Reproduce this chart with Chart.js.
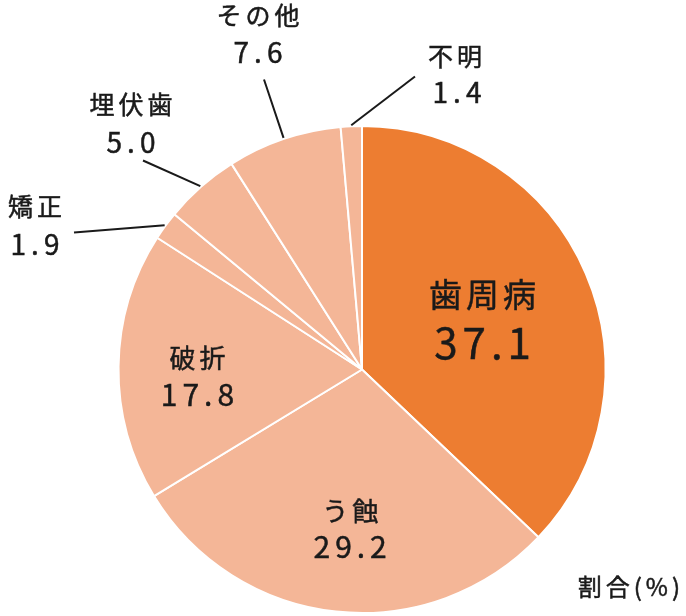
<!DOCTYPE html>
<html lang="ja">
<head>
    <meta charset="UTF-8">
    <title>歯の喪失原因</title>
    <script src="https://cdn.jsdelivr.net/npm/chart.js"></script>
    <style>
        html, body {
            margin: 0;
            padding: 0;
            background: #ffffff;
        }
        .wrap {
            position: relative;
            width: 686px;
            height: 616px;
        }
    </style>
</head>
<body>
    <div class="wrap">
        <canvas id="pieChart" width="686" height="616"></canvas>
    </div>

    <script>
        // data
        const causes = ['歯周病', 'う蝕', '破折', '矯正', '埋伏歯', 'その他', '不明'];
        const shares = [37.1, 29.2, 17.8, 1.9, 5.0, 7.6, 1.4];
        const unitLabel = '割合(%)';

        const ORANGE = '#ED7D31';
        const SALMON = '#F4B697';
        const sliceColors = causes.map((c, i) => i === 0 ? ORANGE : SALMON);

        // where each label goes: inner ones sit on the mid angle at a fraction of the radius,
        // outer ones are offsets from the pie centre with a leader line to the slice edge
        const labelPlacement = [
            { inner: 0.53, gap: 48, nameSize: 33, valueSize: 42, dx: 2, dy: 0 },
            { inner: 0.65, gap: 36, nameSize: 26, valueSize: 30, dx: 5, dy: 2 },
            { inner: 0.68, gap: 37, nameSize: 26, valueSize: 30, dx: 1, dy: 9 },
            { name: [-327, -163], value: [-327, -125], line: [-288, -137] },
            { name: [-231, -265], value: [-231, -227], line: [-219, -209] },
            { name: [-104, -354], value: [-104, -317], line: [-98, -290] },
            { name: [93, -313], value: [95, -277], line: [53, -293] }
        ];

        const FONT = '"Noto Sans CJK JP", "Noto Sans", sans-serif';

        function drawText(ctx, text, x, y, size, spacing) {
            ctx.font = size + 'px ' + FONT;
            ctx.letterSpacing = spacing + 'px';
            // letterSpacing adds a trailing gap, shift half of it back
            ctx.fillText(text, x + spacing / 2, y);
            ctx.lineWidth = 0.5;
            ctx.strokeText(text, x + spacing / 2, y);
        }

        const sliceLabels = {
            id: 'sliceLabels',
            afterDatasetsDraw(chart) {
                const ctx = chart.ctx;
                const meta = chart.getDatasetMeta(0);
                const ds = chart.data.datasets[0];
                ctx.save();
                ctx.fillStyle = '#1a1a1a';
                ctx.strokeStyle = '#1a1a1a';
                ctx.textAlign = 'center';
                ctx.textBaseline = 'middle';
                meta.data.forEach((arc, i) => {
                    const p = arc.getProps(['x', 'y', 'startAngle', 'endAngle', 'outerRadius'], true);
                    const mid = (p.startAngle + p.endAngle) / 2;
                    const place = labelPlacement[i];
                    const valueText = ds.data[i].toFixed(1);
                    if (place.inner) {
                        const r = p.outerRadius * place.inner;
                        const cx = p.x + Math.cos(mid) * r + place.dx;
                        const cy = p.y + Math.sin(mid) * r + place.dy;
                        drawText(ctx, chart.data.labels[i], cx, cy - place.gap / 2, place.nameSize, 4);
                        drawText(ctx, valueText, cx, cy + place.gap / 2, place.valueSize, 5);
                    } else {
                        const sx = p.x + Math.cos(mid) * (p.outerRadius + 1);
                        const sy = p.y + Math.sin(mid) * (p.outerRadius + 1);
                        ctx.lineWidth = 2;
                        ctx.beginPath();
                        ctx.moveTo(sx, sy);
                        ctx.lineTo(p.x + place.line[0], p.y + place.line[1]);
                        ctx.stroke();
                        drawText(ctx, chart.data.labels[i], p.x + place.name[0], p.y + place.name[1], 25, 4);
                        drawText(ctx, valueText, p.x + place.value[0], p.y + place.value[1], 28, 5);
                    }
                });
                // unit note bottom right
                ctx.textAlign = 'right';
                ctx.font = '24px ' + FONT;
                ctx.letterSpacing = '4px';
                ctx.lineWidth = 0.5;
                ctx.fillText(unitLabel, 684, 587);
                ctx.strokeText(unitLabel, 684, 587);
                ctx.restore();
            }
        };

        new Chart(document.getElementById('pieChart'), {
            type: 'pie',
            data: {
                labels: causes,
                datasets: [{
                    data: shares,
                    backgroundColor: sliceColors,
                    borderColor: '#ffffff',
                    borderWidth: 2
                }]
            },
            options: {
                responsive: false,
                animation: false,
                layout: {
                    padding: { left: 117, right: 79, top: 125, bottom: 2 }
                },
                plugins: {
                    legend: { display: false },
                    tooltip: { enabled: false }
                }
            },
            plugins: [sliceLabels]
        });
    </script>
</body>
</html>
